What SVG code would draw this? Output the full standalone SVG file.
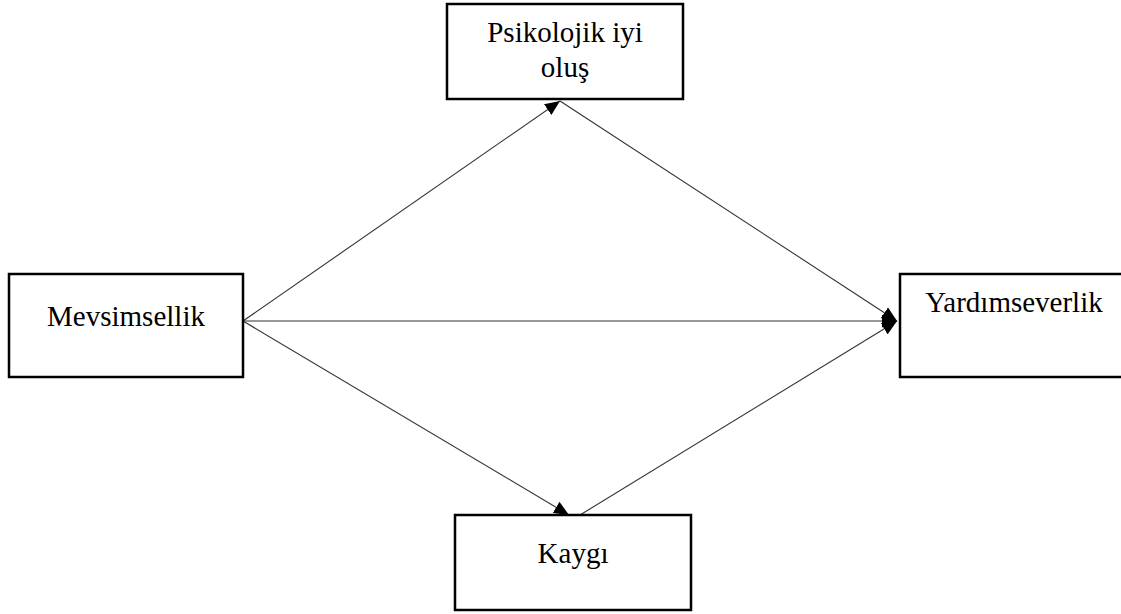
<svg xmlns="http://www.w3.org/2000/svg" width="1121" height="614" viewBox="0 0 1121 614">
  <style>
    .box { fill: #ffffff; stroke: #000000; stroke-width: 2.5; }
    .lbl { font-family: "Liberation Serif", "Times New Roman", serif; font-size: 29px; fill: #000000; text-anchor: middle; }
    .edge { stroke: #333333; stroke-width: 1.1; fill: none; marker-end: url(#arrow); }
  </style>
  <defs>
    <marker id="arrow" markerUnits="userSpaceOnUse" markerWidth="15" markerHeight="13" refX="15" refY="6.5" orient="auto">
      <path d="M0,0 L15,6.5 L0,13 z" fill="#000000"/>
    </marker>
  </defs>
  <rect width="1121" height="614" fill="#ffffff"/>
  <g id="connectors">
    <line class="edge" x1="243" y1="321" x2="560" y2="101"/>
    <line class="edge" x1="560" y1="101" x2="897" y2="321"/>
    <line class="edge" x1="243" y1="321" x2="897" y2="321"/>
    <line class="edge" x1="243" y1="321" x2="569" y2="515"/>
    <line class="edge" x1="580" y1="515" x2="897" y2="321"/>
  </g>
  <g id="node-psikolojik">
    <rect class="box" x="447" y="4" width="236" height="95"/>
    <text class="lbl" x="565" y="42">Psikolojik iyi</text>
    <text class="lbl" x="565" y="77">oluş</text>
  </g>
  <g id="node-mevsimsellik">
    <rect class="box" x="9" y="274" width="234" height="103"/>
    <text class="lbl" x="126" y="326">Mevsimsellik</text>
  </g>
  <g id="node-yardimseverlik">
    <rect class="box" x="900" y="274" width="230" height="103"/>
    <text class="lbl" x="1014" y="312">Yardımseverlik</text>
  </g>
  <g id="node-kaygi">
    <rect class="box" x="455" y="515" width="236" height="95"/>
    <text class="lbl" x="573" y="563">Kaygı</text>
  </g>
</svg>
